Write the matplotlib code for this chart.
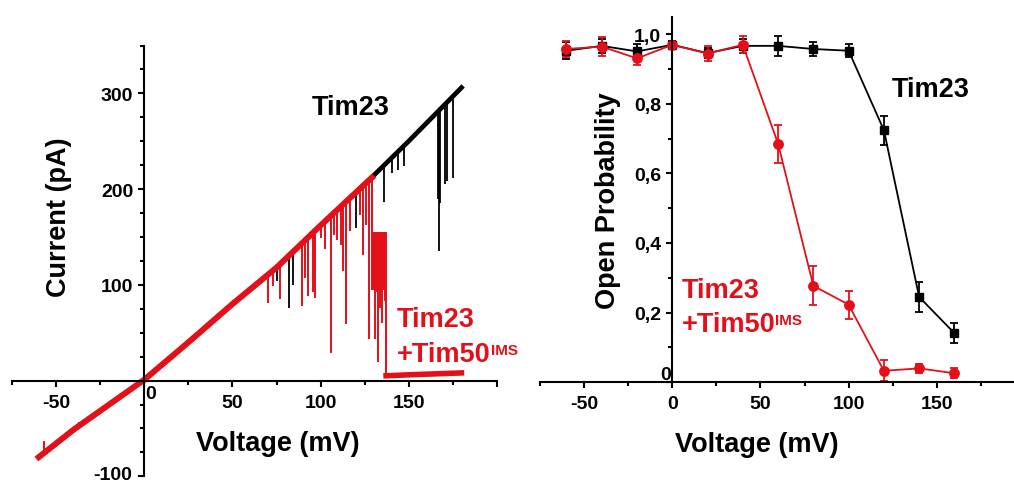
import matplotlib.pyplot as plt
from matplotlib.ticker import MultipleLocator, FuncFormatter

plt.rcParams['font.family'] = ['Liberation Sans', 'DejaVu Sans']
plt.rcParams['font.weight'] = 'bold'

RED = '#e3101a'

# ---- left panel: voltage ramp trace (mV, pA)
base_v = [-60, -40, -20, 0, 25, 50, 75, 100, 125, 150, 180]
base_i = [-80, -51, -25, 1, 40, 80, 118, 162, 205, 250, 306]

black_spike_v = [75.4, 82.2, 84.5, 96.2, 119.9, 136.2, 140.3, 144.2, 147.3,
                 166.9, 167.4, 167.9, 170.6, 171.9, 175.3]
black_spike_lo = [104, 76, 100, 149, 159, 187, 217, 220, 224,
                  190, 135, 185, 205, 208, 212]
black_spike_hi = [119, 131, 134, 155, 196, 225, 233, 240, 245,
                  282, 283, 284, 288, 291, 297]

red_ramp_v = [-60, -40, -20, 0, 25, 50, 75, 100, 125, 129.2]
red_ramp_i = [-80, -51, -25, 1, 40, 80, 118, 162, 205, 212]

red_spike_v = [-57.2, -37.3, 70.1, 73.1, 76.9, 89.6, 90.9, 92.8, 95.6, 96.6,
               100.0, 102.8, 105.7, 107.6, 109.5, 111.4, 112.7, 114.7, 116.5,
               122.2, 124.0, 125.6, 127.4, 129.3, 130.9, 132.2, 132.6, 133.5,
               135.0, 136.5, 137.2]
red_spike_lo = [-76, -47, 81, 99, 85, 78, 107, 88, 93, 86,
                149, 137, 29, 152, 147, 142, 114, 59, 156,
                173, 131, 163, 43, 95, 43, 93, 19, 76,
                60, 83, 5]
red_spike_hi = [-63, -43, 111, 115, 121, 144, 146, 149, 154, 155,
                162, 167, 172, 175, 178, 182, 184, 187, 190,
                200, 203, 206, 209, 212, 155, 155, 155, 155,
                155, 155, 155]

red_block_v = [129.3, 137.2]
red_block_lo = [95, 95]
red_block_hi = [155, 155]

red_closed_v = [137.2, 150, 165, 180]
red_closed_i = [5, 6, 7, 8]

# ---- right panel: open probability
volt = [-60, -40, -20, 0, 20, 40, 60, 80, 100, 120, 140, 160]
po_tim23 = [0.952, 0.966, 0.950, 0.969, 0.945, 0.966, 0.966, 0.957, 0.952, 0.724, 0.245, 0.141]
err_tim23 = [0.024, 0.021, 0.020, 0.010, 0.015, 0.020, 0.028, 0.021, 0.019, 0.042, 0.043, 0.029]
po_tim50 = [0.957, 0.964, 0.930, 0.969, 0.944, 0.969, 0.685, 0.277, 0.223, 0.033, 0.040, 0.026]
err_tim50 = [0.022, 0.027, 0.018, 0.008, 0.022, 0.024, 0.055, 0.056, 0.040, 0.030, 0.013, 0.014]

W, H = 1014, 485
fig = plt.figure(figsize=(W / 100, H / 100), dpi=100)


def px_axes(x0, x1, y0, y1):
    # axes box given in picture pixels (y from top)
    return fig.add_axes([x0 / W, (H - y1) / H, (x1 - x0) / W, (y1 - y0) / H])


def style(ax):
    for s in ['top', 'right']:
        ax.spines[s].set_visible(False)
    for s in ['left', 'bottom']:
        ax.spines[s].set_position(('data', 0))
        ax.spines[s].set_linewidth(1.5)
    ax.tick_params(which='both', direction='out', width=1.5, labelsize=14, pad=3.5)
    ax.tick_params(which='major', length=4.5)
    ax.tick_params(which='minor', length=3)
    ax.patch.set_alpha(0)


# left
ax1 = px_axes(12.3, 496.7, 46.5, 477.3)
ax1.set_xlim(-75, 200)
ax1.set_ylim(-100, 350)
style(ax1)
ax1.xaxis.set_major_locator(MultipleLocator(50))
ax1.xaxis.set_minor_locator(MultipleLocator(25))
ax1.yaxis.set_major_locator(MultipleLocator(100))
ax1.yaxis.set_minor_locator(MultipleLocator(25))
ax1.xaxis.set_major_formatter(FuncFormatter(
    lambda v, p: '' if abs(v) < 1e-9 or v > 175 else '%d' % v))
# 0 and -100 are written by hand below (0 sits off the spine, -100 at the edge)
ax1.yaxis.set_major_formatter(FuncFormatter(
    lambda v, p: '' if v < 50 else '%d' % v))
ax1.tick_params(axis='x', pad=5)

ax1.plot(base_v, base_i, color='k', lw=3.4, solid_joinstyle='round')
ax1.vlines(black_spike_v, black_spike_lo, black_spike_hi, color='k', lw=1.3)
ax1.plot(red_ramp_v, red_ramp_i, color=RED, lw=4.3, solid_joinstyle='round')
ax1.fill_between(red_block_v, red_block_lo, red_block_hi, color=RED, lw=0)
ax1.vlines(red_spike_v, red_spike_lo, red_spike_hi, color=RED, lw=1.4)
ax1.plot(red_closed_v, red_closed_i, color=RED, lw=4.0)

# right
ax2 = px_axes(540, 1013.5, 17.6, 383.3)
ax2.set_xlim(-75, 193.5)
ax2.set_ylim(0, 1.05)
style(ax2)
ax2.xaxis.set_major_locator(MultipleLocator(50))
ax2.xaxis.set_minor_locator(MultipleLocator(25))
ax2.yaxis.set_major_locator(MultipleLocator(0.2))
ax2.yaxis.set_minor_locator(MultipleLocator(0.1))
ax2.yaxis.set_major_formatter(FuncFormatter(
    lambda v, p: '' if abs(v) < 1e-9 else ('%.1f' % v).replace('.', ',')))
ax2.xaxis.set_major_formatter(FuncFormatter(lambda v, p: '%d' % v))
ax2.tick_params(axis='x', pad=5)

ax2.errorbar(volt, po_tim23, yerr=err_tim23, color='k', marker='s', ms=5.5,
             lw=1.3, elinewidth=1.3, capsize=2.8, capthick=1.3, clip_on=False)
ax2.errorbar(volt, po_tim50, yerr=err_tim50, color=RED, marker='o', ms=6.8,
             lw=1.3, elinewidth=1.3, capsize=2.8, capthick=1.3, clip_on=False)

# text
fs = 19.5


def label(x, y, s, color='k', sup=None):
    t = fig.text(x / W, 1 - y / H, s, fontsize=fs, color=color, va='baseline')
    if sup:
        ax1.annotate(sup, xy=(1.0, 0.93), xycoords=t, va='top', ha='left',
                     fontsize=11, color=color, annotation_clip=False)


label(312, 115, 'Tim23')
label(397, 327, 'Tim23', RED)
label(397, 361.7, '+Tim50', RED, 'IMS')
label(891.7, 96.7, 'Tim23')
label(681.7, 297.7, 'Tim23', RED)
label(681.7, 331.7, '+Tim50', RED, 'IMS')

fig.text(150.7 / W, 1 - 395 / H, '0', fontsize=14, ha='center', va='center')
fig.text(132.5 / W, 1 - 475.5 / H, '-100', fontsize=14, ha='right', va='center')
fig.text(665.8 / W, 1 - 375 / H, '0', fontsize=14, ha='center', va='center')

fig.text(59.2 / W, 1 - 216.7 / H, 'Current (pA)', rotation=90, fontsize=fs,
         ha='center', va='center')
fig.text(278.3 / W, 1 - 444 / H, 'Voltage (mV)', fontsize=fs, ha='center', va='center')
fig.text(756.7 / W, 1 - 445 / H, 'Voltage (mV)', fontsize=fs, ha='center', va='center')
fig.text(608.3 / W, 1 - 200.8 / H, 'Open Probability', rotation=90, fontsize=fs,
         ha='center', va='center')

fig.savefig('out.png', dpi=100)
